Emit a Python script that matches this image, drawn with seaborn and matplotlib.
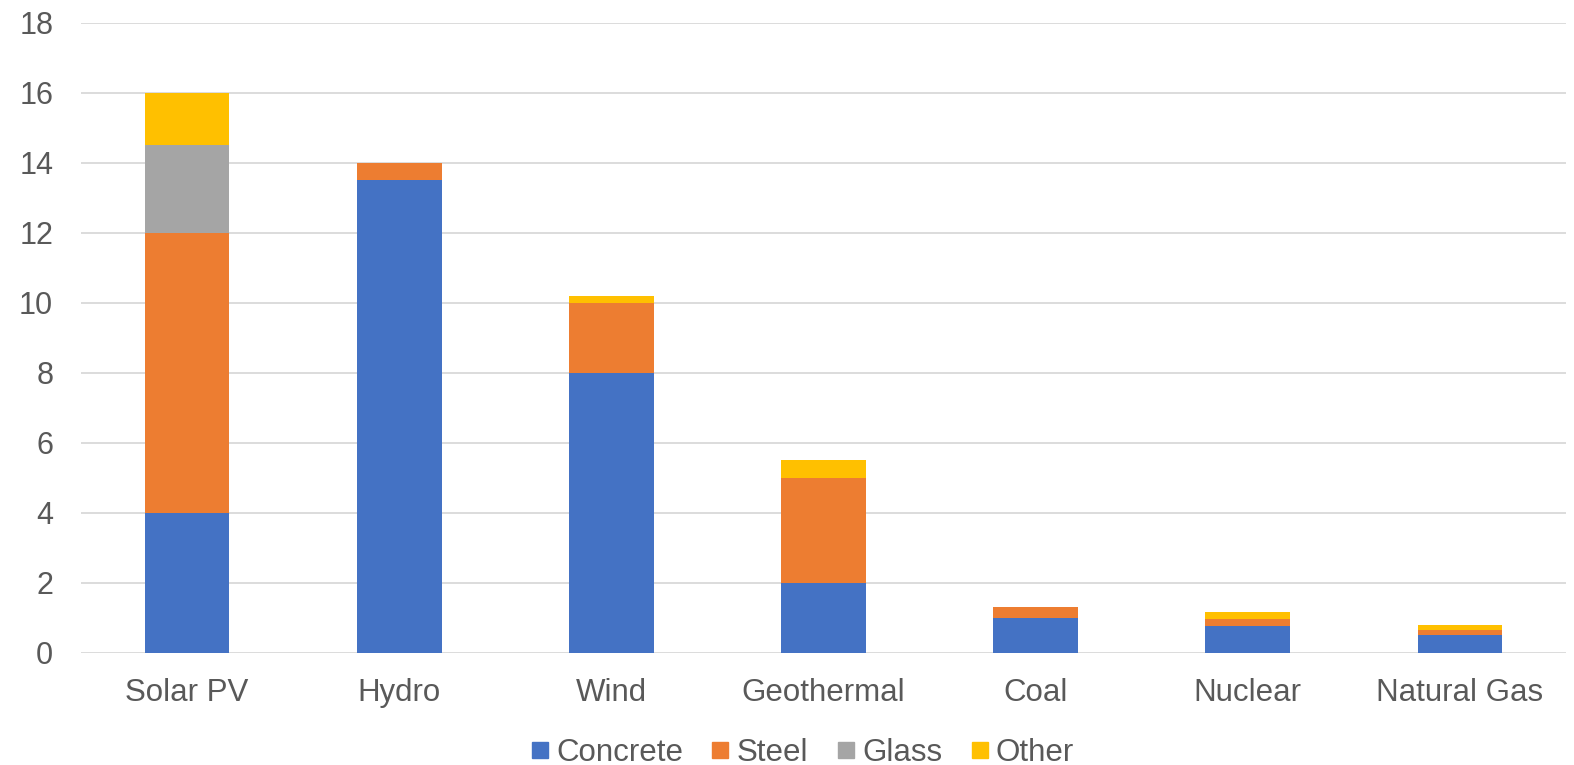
import matplotlib
matplotlib.use("Agg")
import matplotlib.pyplot as plt
from matplotlib.lines import Line2D
import numpy as np
import pandas as pd
import seaborn as sns

# Material requirements by generation technology
sources = ["Solar PV", "Hydro", "Wind", "Geothermal", "Coal", "Nuclear", "Natural Gas"]
concrete = [4.0, 13.5, 8.0, 2.0, 1.0, 0.75, 0.5]
steel = [8.0, 0.5, 2.0, 3.0, 0.3, 0.2, 0.15]
glass = [2.5, 0.0, 0.0, 0.0, 0.0, 0.0, 0.0]
other = [1.5, 0.0, 0.2, 0.5, 0.0, 0.2, 0.15]
y_ticks = [0, 2, 4, 6, 8, 10, 12, 14, 16, 18]

materials = ["Concrete", "Steel", "Glass", "Other"]
colors = {"Concrete": "#4472C4", "Steel": "#ED7D31", "Glass": "#A5A5A5", "Other": "#FFC000"}

sns.set_theme(style="white")
plt.rcParams["font.family"] = ["Liberation Sans", "DejaVu Sans"]

df = pd.DataFrame({"source": sources, "Concrete": concrete, "Steel": steel,
                   "Glass": glass, "Other": other})
cum = df[materials].cumsum(axis=1)

W, H = 1574, 765
fig = plt.figure(figsize=(W / 100, H / 100), dpi=100)
ax = fig.add_axes([81 / W, 1 - 652.7 / H, 1485 / W, 630 / H])

# Stack by overdrawing cumulative totals, top layer first
for mat in reversed(materials):
    sns.barplot(x=df["source"], y=cum[mat], color=colors[mat], width=0.4,
                saturation=1, ax=ax, zorder=3, edgecolor="none")

ax.set_xlim(-0.5, len(sources) - 0.5)
ax.set_ylim(0, 18)
ax.set_yticks(y_ticks)
ax.set_xlabel("")
ax.set_ylabel("")
ax.grid(axis="y", color="#D9D9D9", linewidth=1.3, zorder=0)
ax.set_axisbelow(True)
for s in ax.spines.values():
    s.set_visible(False)
ax.tick_params(axis="both", length=0, labelcolor="#595959")
ax.tick_params(axis="x", pad=18, labelsize=22.5)
ax.tick_params(axis="y", pad=20, labelsize=22)

handles = [Line2D([0], [0], marker="s", linestyle="none", markersize=11.5,
                  markerfacecolor=colors[m], markeredgecolor=colors[m]) for m in materials]
fig.legend(handles, materials, loc="center", bbox_to_anchor=(803 / W, 1 - 753 / H),
           ncol=4, frameon=False, fontsize=22.5, handlelength=0.5, handletextpad=0.27,
           columnspacing=0.95, labelcolor="#595959", borderaxespad=0, borderpad=0)

fig.savefig("out.png", dpi=100)
